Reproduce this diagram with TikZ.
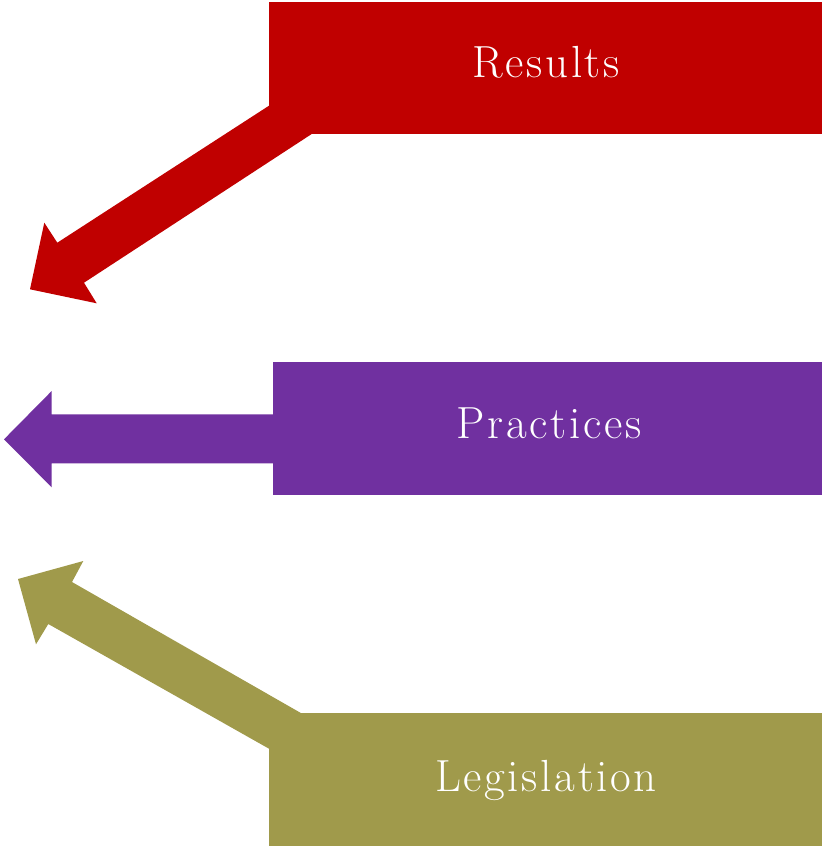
\documentclass[tikz,border=0pt]{standalone}
\usepackage{fontspec}
\setmainfont{Latin Modern Roman}
\newfontfamily\labelfont{Latin Modern Roman}[LetterSpace=6.0]
\definecolor{resred}{HTML}{C00000}
\definecolor{pracpurple}{HTML}{7030A0}
\definecolor{legolive}{HTML}{A09A4B}
\tikzset{
  bar/.style={fill=#1, draw=none},
  barlabel/.style={text=white, anchor=base, inner sep=0pt, font=\labelfont\fontsize{45}{50}\selectfont}
}
\begin{document}
\begin{tikzpicture}[x=1pt,y=-1pt]
\useasboundingbox (0,0) rectangle (823,847);
% boxes
\node[bar=resred, minimum width=553pt, minimum height=132pt, anchor=north west, inner sep=0pt] (res) at (269,2) {};
\node[bar=pracpurple, minimum width=549pt, minimum height=133pt, anchor=north west, inner sep=0pt] (prac) at (273,362) {};
\node[bar=legolive, minimum width=553pt, minimum height=133pt, anchor=north west, inner sep=0pt] (leg) at (269,713) {};
% labels
\node[barlabel] (tres) at (546,77) {Results};
\node[barlabel] (tprac) at (549,438) {Practices};
\node[barlabel] (tleg) at (546,791) {Legislation};
% arrows
\fill[resred] (269,105.7) -- (57.3,242.7) -- (44.3,222.7) -- (30,289.3) -- (96.7,303.3) -- (84,282.7) -- (311.7,134) -- (269,134) -- cycle;
\fill[pracpurple] (273.5,414.3) -- (51.7,414.3) -- (51.7,391) -- (4,439.3) -- (51.7,487.3) -- (51.7,463.3) -- (273.5,463.3) -- cycle;
\fill[legolive] (301.7,713.5) -- (72,582) -- (83.3,561) -- (18,579) -- (36,644.3) -- (48.3,624) -- (269.5,749) -- (269.5,713.5) -- cycle;
\end{tikzpicture}
\end{document}
